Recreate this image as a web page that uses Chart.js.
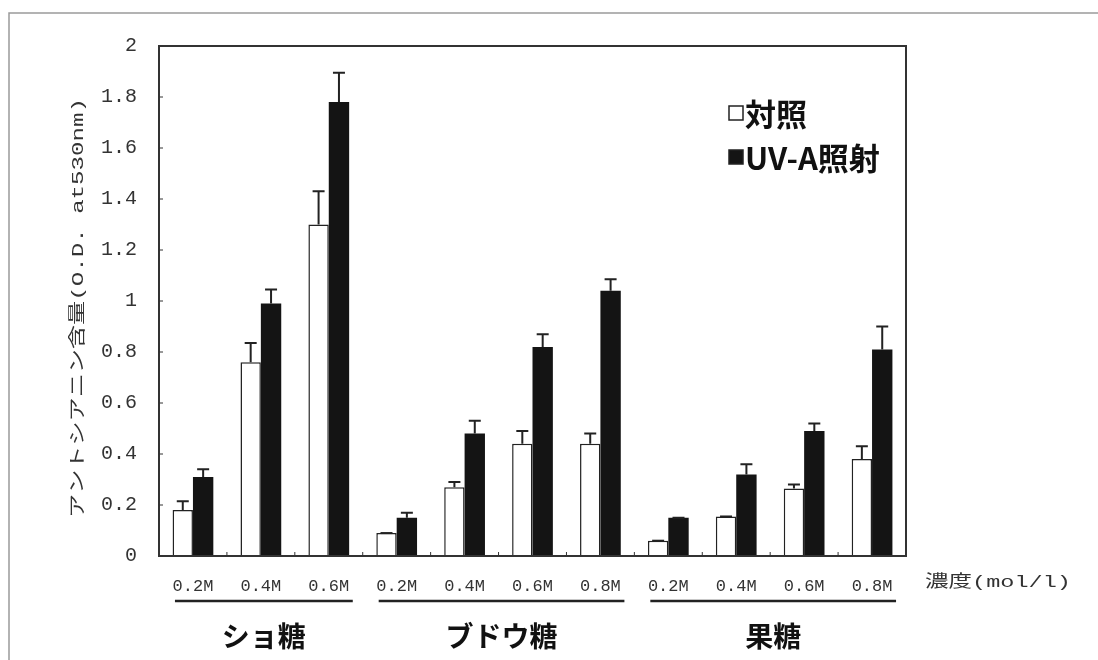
<!DOCTYPE html>
<html>
<head>
<meta charset="utf-8">
<script src="https://cdn.jsdelivr.net/npm/chart.js@4/dist/chart.umd.min.js"></script>
<style>
  body { margin: 0; background: #fff; }
  #plotCanvas { display: block; }
</style>
</head>
<body>
<canvas id="plotCanvas" width="1098" height="660"></canvas>
<script>
// concentration of each sugar solution, left to right
const categories = ['0.2M', '0.4M', '0.6M', '0.2M', '0.4M', '0.6M', '0.8M', '0.2M', '0.4M', '0.6M', '0.8M'];
const groupNames = ['ショ糖', 'ブドウ糖', '果糖'];
const groupSizes = [3, 4, 4];

// anthocyanin content (O.D. at 530nm) and upper error
const controlValues = [0.18, 0.76, 1.30, 0.09, 0.27, 0.44, 0.44, 0.06, 0.155, 0.265, 0.38];
const controlErrors = [0.035, 0.075, 0.13, 0, 0.02, 0.05, 0.04, 0, 0, 0.015, 0.05];
const uvaValues = [0.31, 0.99, 1.78, 0.15, 0.48, 0.82, 1.04, 0.15, 0.32, 0.49, 0.81];
const uvaErrors = [0.03, 0.055, 0.115, 0.02, 0.05, 0.05, 0.045, 0, 0.04, 0.03, 0.09];

const yTicks = [0, 0.2, 0.4, 0.6, 0.8, 1, 1.2, 1.4, 1.6, 1.8, 2];
const yTitle = 'アントシアニン含量(O.D. at530nm)';
const xUnit = '濃度(mol/l)';

const ink = '#222';
const mono = '"Liberation Mono", "Noto Sans CJK JP", monospace';
const gothic = '"Noto Sans CJK JP", sans-serif';

// error bars on top of every bar
const errorBars = {
    id: 'errorBars',
    afterDatasetsDraw(chart) {
        const c = chart.ctx;
        const y = chart.scales.y;
        c.save();
        c.strokeStyle = ink;
        c.lineWidth = 2;
        chart.data.datasets.forEach((ds, i) => {
            chart.getDatasetMeta(i).data.forEach((bar, j) => {
                const top = y.getPixelForValue(ds.data[j] + ds.errors[j]);
                c.beginPath();
                c.moveTo(bar.x, bar.y);
                c.lineTo(bar.x, top);
                c.moveTo(bar.x - 6, top);
                c.lineTo(bar.x + 6, top);
                c.stroke();
            });
        });
        c.restore();
    }
};

// text squeezed or stretched to a given width
function fitText(c, text, cx, cy, width) {
    const w = c.measureText(text).width;
    c.save();
    c.translate(cx, cy);
    c.scale(width / w, 1);
    c.fillText(text, 0, 0);
    c.restore();
}

// frame, inward ticks, axis title, sugar groups and legend
const decorations = {
    id: 'decorations',
    afterDraw(chart) {
        const c = chart.ctx;
        const a = chart.chartArea;
        const x = chart.scales.x;
        const y = chart.scales.y;
        c.save();

        // outer figure border (top and left)
        c.strokeStyle = '#9a9a9a';
        c.lineWidth = 1.5;
        c.beginPath();
        c.moveTo(9, 660);
        c.lineTo(9, 13);
        c.lineTo(1098, 13);
        c.stroke();

        // plot frame
        c.strokeStyle = '#333';
        c.lineWidth = 2;
        c.strokeRect(a.left, a.top, a.right - a.left, a.bottom - a.top);

        // small inward ticks
        c.lineWidth = 1;
        yTicks.forEach(v => {
            const py = y.getPixelForValue(v);
            c.beginPath();
            c.moveTo(a.left, py);
            c.lineTo(a.left + 4, py);
            c.stroke();
        });
        for (let i = 1; i < categories.length; i++) {
            const px = (x.getPixelForValue(i - 1) + x.getPixelForValue(i)) / 2;
            c.beginPath();
            c.moveTo(px, a.bottom);
            c.lineTo(px, a.bottom - 4);
            c.stroke();
        }

        // rotated y axis title, stretched along its length
        c.fillStyle = '#333';
        c.font = '17px ' + mono;
        c.textAlign = 'center';
        c.textBaseline = 'middle';
        c.save();
        c.translate(78, 308);
        c.rotate(-Math.PI / 2);
        fitText(c, yTitle, 0, 0, 420);
        c.restore();

        // unit after the tick labels
        c.font = '17px ' + mono;
        fitText(c, xUnit, 998, 582, 146);

        // sugar groups: underline and name
        let start = 0;
        groupNames.forEach((name, g) => {
            const end = start + groupSizes[g] - 1;
            const x0 = x.getPixelForValue(start) - 18;
            const x1 = x.getPixelForValue(end) + 24;
            c.strokeStyle = ink;
            c.lineWidth = 2.5;
            c.beginPath();
            c.moveTo(x0, 601);
            c.lineTo(x1, 601);
            c.stroke();
            c.fillStyle = '#111';
            c.font = 'bold 28px ' + gothic;
            c.textAlign = 'center';
            c.fillText(name, (x0 + x1) / 2, 636);
            start = end + 1;
        });

        // legend
        const rows = [113, 157];
        chart.data.datasets.forEach((ds, i) => {
            const ly = rows[i];
            c.lineWidth = 1.5;
            c.strokeStyle = ink;
            c.fillStyle = ds.backgroundColor;
            c.fillRect(729, ly - 7, 14, 14);
            c.strokeRect(729, ly - 7, 14, 14);
            c.fillStyle = '#111';
            c.font = 'bold 31px ' + gothic;
            c.textAlign = 'left';
            c.fillText(ds.label, 745, ly + 1);
        });

        c.restore();
    }
};

const ctx = document.getElementById('plotCanvas');

const chart = new Chart(ctx, {
    type: 'bar',
    data: {
        labels: categories,
        datasets: [{
            label: '対照',
            data: controlValues,
            errors: controlErrors,
            backgroundColor: '#ffffff',
            borderColor: ink,
            borderWidth: 1.5,
            categoryPercentage: 0.6,
            barPercentage: 1.0
        }, {
            label: 'UV-A照射',
            data: uvaValues,
            errors: uvaErrors,
            backgroundColor: '#141414',
            borderColor: '#141414',
            borderWidth: 0,
            categoryPercentage: 0.6,
            barPercentage: 1.0
        }]
    },
    options: {
        responsive: false,
        animation: false,
        layout: { padding: { left: 50, top: 46, right: 192, bottom: 0 } },
        plugins: {
            legend: { display: false },
            tooltip: { enabled: false }
        },
        scales: {
            x: {
                grid: { display: false },
                border: { display: false },
                ticks: {
                    color: '#333',
                    padding: 12,
                    maxRotation: 0,
                    font: { family: mono, size: 17 }
                },
                afterFit(scale) { scale.height = 104; }
            },
            y: {
                min: 0,
                max: 2,
                grid: { display: false, drawTicks: false },
                border: { display: false },
                afterBuildTicks(scale) {
                    scale.ticks = yTicks.map(v => ({ value: v }));
                },
                ticks: {
                    color: '#333',
                    padding: 22,
                    font: { family: mono, size: 20 },
                    callback: v => String(+v.toFixed(1))
                },
                afterFit(scale) { scale.width = 109; }
            }
        }
    },
    plugins: [errorBars, decorations]
});
</script>
</body>
</html>
